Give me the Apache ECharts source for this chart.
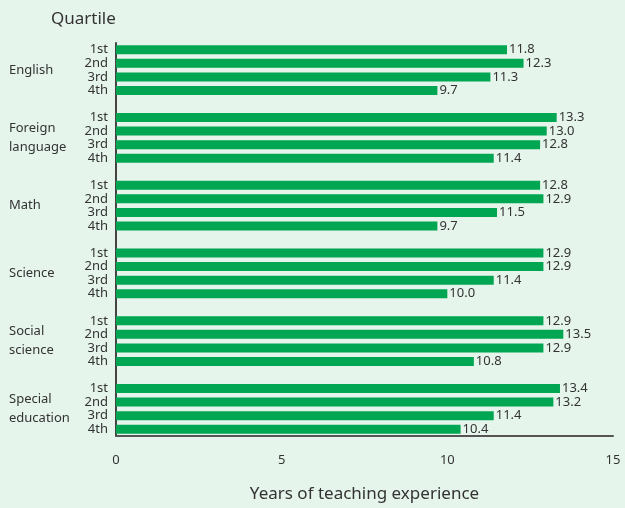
<!DOCTYPE html>
<html>
<head>
<meta charset="utf-8">
<script src="https://cdn.jsdelivr.net/npm/echarts@6/dist/echarts.min.js"></script>
<style>
  html, body { margin: 0; padding: 0; background: #e6f5ec; }
  #main { width: 625px; height: 508px; }
</style>
</head>
<body>
<div id="main"></div>
<script>
// subject groups, quartile rows and years of experience per group
const groups = ['English', 'Foreign\nlanguage', 'Math', 'Science', 'Social\nscience', 'Special\neducation'];
const quartiles = ['1st', '2nd', '3rd', '4th'];
const english = [11.8, 12.3, 11.3, 9.7];
const foreign = [13.3, 13.0, 12.8, 11.4];
const math = [12.8, 12.9, 11.5, 9.7];
const science = [12.9, 12.9, 11.4, 10.0];
const social = [12.9, 13.5, 12.9, 10.8];
const special = [13.4, 13.2, 11.4, 10.4];
const xTicks = [0, 5, 10, 15];

const values = [english, foreign, math, science, social, special];

// flatten into one category axis, an empty slot between groups
let cats = [], data = [], groupCenters = [];
values.forEach((g, gi) => {
    if (gi > 0) { cats.push('gap' + gi); data.push('-'); }
    groupCenters.push(cats.length + 2);
    g.forEach((v, qi) => { cats.push(quartiles[qi] + '_' + gi); data.push(v); });
});

const font = 'Noto Sans';
const txt = '#333333';

let chart = echarts.init(document.getElementById('main'));
chart.setOption({
    backgroundColor: '#e6f5ec',
    animation: false,
    textStyle: { fontFamily: font },
    title: {
        text: 'Quartile',
        left: 46, top: 6,
        textStyle: { fontFamily: font, fontSize: 17, fontWeight: 'normal', color: txt }
    },
    grid: { left: 116, right: 12, top: 43, bottom: 69 },
    xAxis: {
        type: 'value',
        min: xTicks[0], max: xTicks[xTicks.length - 1], interval: 5,
        name: 'Years of teaching experience',
        nameLocation: 'middle',
        nameGap: 50,
        nameTextStyle: { fontFamily: font, fontSize: 17, color: txt },
        axisLine: { show: true, onZero: false, lineStyle: { color: '#555', width: 2 } },
        axisTick: { show: false },
        splitLine: { show: false },
        axisLabel: { margin: 18, fontSize: 13, color: txt, fontFamily: font }
    },
    yAxis: [{
        type: 'category',
        data: cats,
        inverse: true,
        axisLine: { show: true, lineStyle: { color: '#444', width: 2 } },
        axisTick: { show: false },
        axisLabel: {
            interval: 0, margin: 8, fontSize: 13, color: txt, fontFamily: font,
            formatter: v => v.startsWith('gap') ? '' : v.split('_')[0]
        }
    }, {
        type: 'value',
        min: 0, max: cats.length,
        inverse: true,
        position: 'left',
        axisLine: { show: false },
        axisTick: { show: false },
        splitLine: { show: false },
        axisLabel: {
            customValues: groupCenters,
            align: 'left',
            margin: 107,
            fontSize: 13,
            lineHeight: 19,
            color: txt,
            fontFamily: font,
            formatter: v => groups[groupCenters.indexOf(v)] || ''
        }
    }],
    series: [{
        type: 'bar',
        yAxisIndex: 0,
        data: data,
        barWidth: 9,
        itemStyle: { color: '#00a651' },
        label: {
            show: true, position: 'right', distance: 2,
            fontSize: 13, color: txt, fontFamily: font,
            formatter: p => p.value.toFixed(1)
        }
    }]
});
</script>
</body>
</html>
